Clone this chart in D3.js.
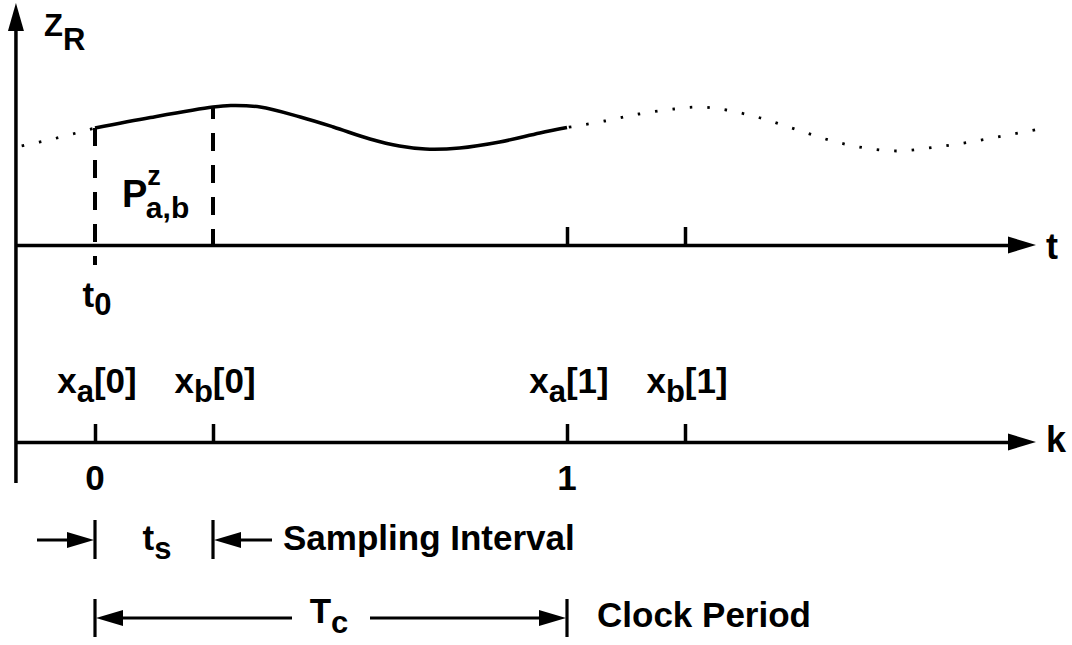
<!DOCTYPE html>
<html>
<head>
<meta charset="utf-8">
<script src="https://cdn.jsdelivr.net/npm/d3@7"></script>
<style>
  html, body { margin: 0; padding: 0; background: #fff; }
  svg { display: block; font-family: "Liberation Sans", Arial, Helvetica, sans-serif; font-weight: bold; }
</style>
</head>
<body>
<svg id="chart" width="1072" height="645"></svg>
<script>
// Time is measured in sampling intervals (t0 = 0, ts = 1, Tc = 4).
// z is the received signal level above the t axis.

// Dotted lead-in before t0
const leadT = [-0.67, -0.34, 0];
const leadZ = [9.8, 10.65, 11.7];

// Solid segment over the first clock period
const solidT = [0, 0.47, 1.0, 1.15, 1.4, 1.74, 2.02, 2.33, 2.58, 2.8, 3.09, 3.43, 3.77, 4.0];
const solidZ = [11.7, 12.75, 13.8, 13.95, 13.8, 12.8, 11.8, 10.6, 9.9, 9.6, 9.7, 10.3, 11.2, 11.75];

// Dotted continuation into the next period
const trailT = [4.0, 4.32, 4.61, 4.91, 5.13, 5.35, 5.64, 5.93, 6.22, 6.5, 6.8, 7.1, 7.39, 7.69, 7.98];
const trailZ = [11.75, 12.4, 13.1, 13.6, 13.8, 13.5, 12.7, 11.6, 10.5, 9.75, 9.4, 9.75, 10.25, 10.9, 11.55];

// Sample instants and their labels
const sampleT = [0, 1, 4, 5];
const sampleVar = ["x", "x", "x", "x"];
const sampleSub = ["a", "b", "a", "b"];
const sampleIdx = ["[0]", "[0]", "[1]", "[1]"];

// Clock index ticks on the k axis
const clockT = [0, 4];
const clockLabels = ["0", "1"];

// Ticks on the t axis that are plain marks (the first two are dashed guides)
const tTicks = [4, 5];

const svg = d3.select("#chart");

const tX = d3.scaleLinear().domain([0, 4]).range([95, 567]);
const zY = d3.scaleLinear().domain([0, 10]).range([245, 145]);

const ink = "#000";
const axisW = 3.5;
const yAxisX = tX(-0.67);
const tAxisY = zY(0);
const kAxisY = 442;
const arrowTip = 1036;
const arrowLen = 28;
const arrowHalf = 8.5;
const FS = 35;   // main label size
const SUB = 31;  // subscript size

// ---- vertical z axis with arrow ----
svg.append("line")
  .attr("x1", yAxisX).attr("x2", yAxisX)
  .attr("y1", 483).attr("y2", 28)
  .attr("stroke", ink).attr("stroke-width", axisW);
svg.append("path")
  .attr("d", `M${yAxisX},3 L${yAxisX - 8},31 L${yAxisX + 8},31 Z`)
  .attr("fill", ink);

const zLabel = svg.append("text").attr("x", 44).attr("y", 36).attr("font-size", 31);
zLabel.append("tspan").text("Z");
zLabel.append("tspan").attr("dy", 14).attr("font-size", 31).text("R");

// ---- horizontal axes built with d3 axes ----
function hAxis(y, ticks) {
  const sc = tX.copy().domain([tX.invert(yAxisX), tX.invert(arrowTip - arrowLen + 2)])
    .range([yAxisX, arrowTip - arrowLen + 2]);
  const g = svg.append("g").attr("transform", `translate(0,${y})`)
    .call(d3.axisTop(sc).tickValues(ticks).tickSize(18).tickSizeOuter(0).tickFormat(""));
  g.select(".domain").attr("stroke", ink).attr("stroke-width", axisW);
  g.selectAll(".tick line").attr("stroke", ink).attr("stroke-width", axisW);
  svg.append("path")
    .attr("d", `M${arrowTip},${y} L${arrowTip - arrowLen},${y - arrowHalf} L${arrowTip - arrowLen},${y + arrowHalf} Z`)
    .attr("fill", ink);
  return g;
}
hAxis(tAxisY, tTicks);
hAxis(kAxisY, sampleT);

svg.append("text").attr("x", 1046).attr("y", 259).attr("font-size", 36).text("t");
svg.append("text").attr("x", 1046).attr("y", 452).attr("font-size", 36).text("k");

// ---- signal curve ----
const line = d3.line()
  .x(d => tX(d[0]))
  .y(d => zY(d[1]))
  .curve(d3.curveCatmullRom.alpha(0.5));

svg.append("path")
  .attr("d", line(d3.zip(leadT, leadZ)))
  .attr("fill", "none").attr("stroke", ink).attr("stroke-width", 2.8)
  .attr("stroke-dasharray", "2.5,15").attr("stroke-dashoffset", -6);

svg.append("path")
  .attr("d", line(d3.zip(trailT, trailZ)))
  .attr("fill", "none").attr("stroke", ink).attr("stroke-width", 2.8)
  .attr("stroke-dasharray", "2.5,15").attr("stroke-dashoffset", -2);

svg.append("path")
  .attr("d", line(d3.zip(solidT, solidZ)))
  .attr("fill", "none").attr("stroke", ink).attr("stroke-width", 3.5);

// dashed guides at t0 and t0 + ts
svg.append("line")
  .attr("x1", tX(0)).attr("x2", tX(0))
  .attr("y1", zY(solidZ[0])).attr("y2", 265)
  .attr("stroke", ink).attr("stroke-width", 4)
  .attr("stroke-dasharray", "18,14");
svg.append("line")
  .attr("x1", tX(1)).attr("x2", tX(1))
  .attr("y1", zY(solidZ[2])).attr("y2", tAxisY)
  .attr("stroke", ink).attr("stroke-width", 4)
  .attr("stroke-dasharray", "18,14").attr("stroke-dashoffset", 6);

// P^z_{a,b}: superscript and subscript stacked after P
const pLabel = svg.append("text").attr("x", 122).attr("y", 207).attr("font-size", 38);
pLabel.append("tspan").text("P");
pLabel.append("tspan").attr("dy", -22).attr("font-size", 27).text("z");
pLabel.append("tspan").attr("dx", -15).attr("dy", 33).attr("font-size", 30).text("a,b");

// t0
const t0 = svg.append("text").attr("x", tX(0) + 2).attr("y", 307)
  .attr("font-size", FS).attr("text-anchor", "middle");
t0.append("tspan").text("t");
t0.append("tspan").attr("dy", 8).attr("font-size", SUB).text("0");

// ---- sample labels above the k axis ----
sampleT.forEach((t, i) => {
  const tx = svg.append("text").attr("x", tX(t) + 2).attr("y", 393)
    .attr("font-size", FS).attr("text-anchor", "middle");
  tx.append("tspan").text(sampleVar[i]);
  tx.append("tspan").attr("dy", 9).attr("font-size", SUB).text(sampleSub[i]);
  tx.append("tspan").attr("dy", -9).text(sampleIdx[i]);
});

clockT.forEach((t, i) => {
  svg.append("text").attr("x", tX(t)).attr("y", 490)
    .attr("font-size", FS).attr("text-anchor", "middle").text(clockLabels[i]);
});

// ---- interval annotations ----
function arrow(x1, x2, y) {
  // shaft from x1 toward x2, head at x2
  const dir = Math.sign(x2 - x1);
  svg.append("line")
    .attr("x1", x1).attr("x2", x2 - dir * 20).attr("y1", y).attr("y2", y)
    .attr("stroke", ink).attr("stroke-width", 3.2);
  svg.append("path")
    .attr("d", `M${x2},${y} L${x2 - dir * 27},${y - 8} L${x2 - dir * 27},${y + 8} Z`)
    .attr("fill", ink);
}
function bar(x, y1, y2) {
  svg.append("line").attr("x1", x).attr("x2", x).attr("y1", y1).attr("y2", y2)
    .attr("stroke", ink).attr("stroke-width", 3.2);
}

const sampY = 540;
bar(tX(0), 520, 559);
bar(tX(1), 520, 559);
arrow(37, tX(0) - 1, sampY);
arrow(272, tX(1) + 1, sampY);
const ts = svg.append("text").attr("x", 157).attr("y", 550)
  .attr("font-size", FS).attr("text-anchor", "middle");
ts.append("tspan").text("t");
ts.append("tspan").attr("dy", 9).attr("font-size", SUB).text("s");
svg.append("text").attr("x", 283).attr("y", 550).attr("font-size", FS)
  .text("Sampling Interval");

const clkY = 618;
bar(tX(0), 599, 637);
bar(tX(4), 599, 637);
arrow(292, tX(0) + 1, clkY);
arrow(370, tX(4) - 1, clkY);
const tc = svg.append("text").attr("x", 329).attr("y", 623)
  .attr("font-size", FS).attr("text-anchor", "middle");
tc.append("tspan").text("T");
tc.append("tspan").attr("dy", 10).attr("font-size", SUB).text("c");
svg.append("text").attr("x", 597).attr("y", 627).attr("font-size", FS)
  .text("Clock Period");
</script>
</body>
</html>
